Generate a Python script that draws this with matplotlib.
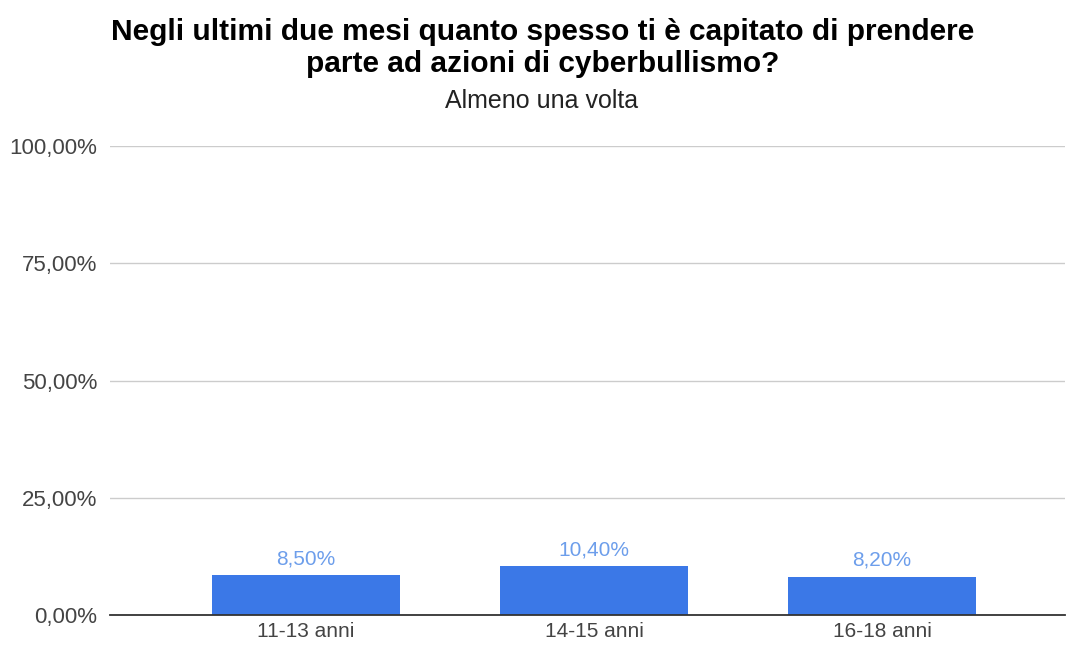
import matplotlib
matplotlib.use("Agg")
import matplotlib.pyplot as plt
from matplotlib.ticker import FuncFormatter

categories = ["11-13 anni", "14-15 anni", "16-18 anni"]
values = [8.50, 10.40, 8.20]
yticks = [0, 25, 50, 75, 100]

title = "Negli ultimi due mesi quanto spesso ti è capitato di prendere\nparte ad azioni di cyberbullismo?"
subtitle = "Almeno una volta"

plt.rcParams["font.family"] = ["Liberation Sans", "DejaVu Sans"]

def it_pct(v):
    return f"{v:.2f}".replace(".", ",") + "%"

fig = plt.figure(figsize=(10.67, 6.46), dpi=100)
ax = fig.add_axes([110 / 1067, 1 - 615 / 646, (1065 - 110) / 1067, (615 - 146) / 646])

x = list(range(len(categories)))
ax.bar(x, values, width=0.65, color="#3b78e7", zorder=3)
for xi, v in zip(x, values):
    ax.annotate(it_pct(v), (xi, v), xytext=(0, 5), textcoords="offset points",
                ha="center", va="bottom", color="#6d9eeb", fontsize=15)

ax.set_xlim(-0.68, 2.635)
ax.set_ylim(0, 100)
ax.set_yticks(yticks)
ax.yaxis.set_major_formatter(FuncFormatter(lambda v, p: it_pct(v)))
ax.set_xticks(x)
ax.set_xticklabels(categories)
ax.tick_params(axis="both", length=0, labelcolor="#444444")
ax.tick_params(axis="y", pad=9, labelsize=16)
ax.tick_params(axis="x", pad=5, labelsize=15)

ax.grid(axis="y", color="#cccccc", linewidth=1, zorder=0)
for s in ["top", "right", "left"]:
    ax.spines[s].set_visible(False)
ax.spines["bottom"].set_color("#333333")
ax.spines["bottom"].set_linewidth(1.3)
ax.spines["bottom"].set_zorder(4)

fig.text(0.5085, 1 - 48 / 646, title, ha="center", va="center", fontsize=21.5,
         fontweight="bold", color="#000000", linespacing=1.15)
fig.text(0.508, 1 - 101 / 646, subtitle, ha="center", va="center", fontsize=18,
         color="#222222")

fig.savefig("out.png", dpi=100, facecolor="white")
